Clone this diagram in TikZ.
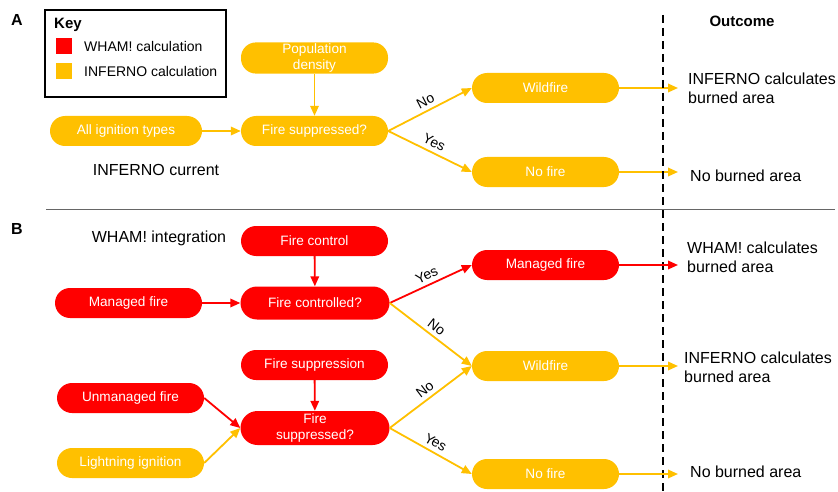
\documentclass[tikz,border=0pt]{standalone}
\usepackage{fontspec}
\setmainfont{Liberation Sans}
\usetikzlibrary{arrows.meta}
\definecolor{whamred}{HTML}{FF0000}
\definecolor{infgold}{HTML}{FFC000}
\tikzset{
  box/.style={rectangle, rounded corners=15pt, minimum width=147pt, minimum height=30pt,
    inner sep=1pt, align=center, text=white, font=\fontsize{13.6}{16.5}\selectfont},
  redbox/.style={box, fill=whamred},
  ylwbox/.style={box, fill=infgold},
  link/.style={line width=1.8pt, -{Triangle[length=10pt,width=8.5pt]}},
  redlink/.style={link, draw=whamred},
  ylwlink/.style={link, draw=infgold},
  lbl/.style={font=\fontsize{14}{16}\selectfont, sloped, above, inner sep=4pt},
  plain/.style={font=\fontsize{16}{19}\selectfont, align=left, inner sep=0pt},
  panel/.style={font=\fontsize{16}{18}\selectfont\bfseries, inner sep=0pt},
}
\begin{document}
\begin{tikzpicture}[x=1pt,y=-1pt]
\useasboundingbox (0,0) rectangle (838,492);
% key
\draw [line width=1.2pt] (45,10) rectangle (226,97);
\node [font=\fontsize{15}{17}\selectfont\bfseries, anchor=west, inner sep=0pt] (key) at (54,25) {Key};
\node [fill=whamred, minimum size=16pt, inner sep=0pt] (keyred) at (64,46) {};
\node [fill=infgold, minimum size=16pt, inner sep=0pt] (keyylw) at (64,71) {};
\node [font=\fontsize{14}{16}\selectfont, anchor=west, inner sep=0pt] at (84,46) {WHAM! calculation};
\node [font=\fontsize{14}{16}\selectfont, anchor=west, inner sep=0pt] at (84,71) {INFERNO calculation};
% panel A
\node [panel] (pa) at (17,20) {A};
\node [ylwbox] (popden) at (314.5,58) {Population\\density};
\node [ylwbox, minimum width=152pt] (allign) at (126,131) {All ignition types};
\node [ylwbox] (supA) at (314.5,131) {Fire suppressed?};
\node [ylwbox] (wildA) at (545.5,88) {Wildfire};
\node [ylwbox] (nofireA) at (545.5,172) {No fire};
\node [plain] (curr) at (156,170) {INFERNO current};
\draw [ylwlink] (allign) -- (supA);
\draw [ylwlink] (popden) -- (supA);
\draw [ylwlink] (supA.east) -- node [lbl] {No} (wildA.west);
\draw [ylwlink] (supA.east) -- node [lbl] {Yes} (nofireA.west);
% outcomes A
\coordinate (endwA) at (678,88);
\coordinate (endnA) at (678,172);
\draw [ylwlink] (wildA) -- (endwA);
\draw [ylwlink] (nofireA) -- (endnA);
\node [plain, anchor=west] (outwA) at (688,88) {INFERNO calculates\\burned area};
\node [plain, anchor=west] (outnA) at (690,176) {No burned area};
% divider and outcome column
\draw [gray!80!black, line width=0.8pt] (46,209) -- (835,209);
\draw [line width=1.8pt, dash pattern=on 8pt off 5pt] (663,15) -- (663,492);
\node [font=\fontsize{15}{17}\selectfont\bfseries] (outc) at (742,21) {Outcome};
% panel B
\node [panel] (pb) at (17,229) {B};
\node [plain] (integ) at (159,238) {WHAM! integration};
\node [redbox] (fctrl) at (314.5,241) {Fire control};
\node [redbox] (mngL) at (128.5,303) {Managed fire};
\node [redbox, minimum width=149pt, minimum height=33pt, rounded corners=16.5pt] (ctrlQ) at (315,303) {Fire controlled?};
\node [redbox] (fsupp) at (314.5,365) {Fire suppression};
\node [redbox] (unmng) at (130.5,398) {Unmanaged fire};
\node [redbox, minimum width=149pt, minimum height=34pt, rounded corners=17pt] (supB) at (315,428) {Fire\\suppressed?};
\node [ylwbox] (light) at (130.5,463) {Lightning ignition};
\node [redbox] (mngR) at (545.5,265) {Managed fire};
\node [ylwbox] (wildB) at (545.5,366) {Wildfire};
\node [ylwbox] (nofireB) at (545.5,474) {No fire};
\draw [redlink] (fctrl) -- (ctrlQ);
\draw [redlink] (mngL) -- (ctrlQ);
\draw [redlink] (ctrlQ.east) -- node [lbl] {Yes} (mngR.west);
\draw [ylwlink] (ctrlQ.east) -- node [lbl] {No} (wildB.west);
\draw [redlink] (fsupp) -- (supB);
\draw [redlink] (unmng.east) -- (supB.west);
\draw [ylwlink] (light.east) -- (supB.west);
\draw [ylwlink] (supB.east) -- node [lbl] {No} (wildB.west);
\draw [ylwlink] (supB.east) -- node [lbl] {Yes} (nofireB.west);
% outcomes B
\coordinate (endmB) at (678,265);
\coordinate (endwB) at (678,366);
\coordinate (endnB) at (678,474);
\draw [redlink] (mngR) -- (endmB);
\draw [ylwlink] (wildB) -- (endwB);
\draw [ylwlink] (nofireB) -- (endnB);
\node [plain, anchor=west] (outmB) at (687,257) {WHAM! calculates\\burned area};
\node [plain, anchor=west] (outwB) at (684,367) {INFERNO calculates\\burned area};
\node [plain, anchor=west] (outnB) at (690,472) {No burned area};
\end{tikzpicture}
\end{document}
